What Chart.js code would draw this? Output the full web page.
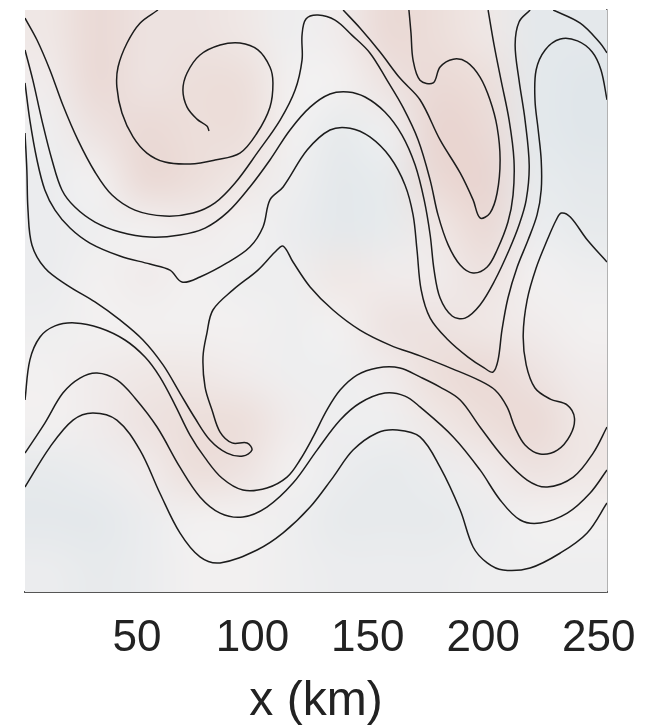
<!DOCTYPE html>
<html>
<head>
<meta charset="utf-8">
<script src="https://cdn.jsdelivr.net/npm/chart.js@4.4.0/dist/chart.umd.min.js"></script>
<style>
  html, body { margin: 0; padding: 0; background: #fff; }
  #wrap { width: 657px; height: 728px; }
</style>
</head>
<body>
<div id="wrap"><canvas id="field" width="657" height="728"></canvas></div>
<script>
// axis range and ticks (km)
const xRange = [1.5, 253.6];
const yRange = [1.5, 253.7];
const xTicks = [50, 100, 150, 200, 250];

// background tracer field on a coarse 12 x 12 grid, top row first
// positive = reddish, negative = bluish
const fieldRows = [
  [ 0.2,  0.5,  0.3,  0.3,  0.2, -0.1,  0.1,  0.5,  0.4,  0.2, -0.4, -0.4],
  [ 0.1,  0.5,  0.3,  0.4,  0.4,  0.0,  0.0,  0.3,  0.5,  0.4, -0.4, -0.5],
  [-0.1,  0.3,  0.5,  0.4,  0.4,  0.0, -0.3, -0.1,  0.6,  0.5, -0.4, -0.5],
  [-0.2,  0.0,  0.5,  0.4,  0.2, -0.1, -0.4, -0.3,  0.5,  0.6, -0.3, -0.4],
  [-0.2, -0.1,  0.0,  0.1,  0.0, -0.2, -0.4, -0.3,  0.2,  0.5, -0.2, -0.3],
  [-0.2,  0.0,  0.1,  0.0, -0.1, -0.1,  0.2,  0.1,  0.1,  0.3,  0.0, -0.1],
  [-0.1,  0.0,  0.0,  0.0,  0.0, -0.1,  0.0,  0.3,  0.3,  0.2,  0.1,  0.0],
  [ 0.0,  0.1,  0.2,  0.2,  0.1, -0.1, -0.1,  0.1,  0.4,  0.5,  0.3,  0.1],
  [ 0.0,  0.1,  0.3,  0.4,  0.4,  0.1, -0.1, -0.1,  0.2,  0.4,  0.5,  0.2],
  [-0.3, -0.2,  0.1,  0.4,  0.3,  0.0, -0.2, -0.3, -0.2,  0.1,  0.3,  0.2],
  [-0.4, -0.4, -0.2,  0.0,  0.0, -0.1, -0.3, -0.3, -0.3, -0.2,  0.0,  0.0],
  [-0.2, -0.3, -0.2,  0.0,  0.0, -0.1, -0.2, -0.2, -0.2, -0.1, -0.1, -0.1]
];

// contour lines, [x km, y km]
const swirl = [
  [59.1, 253.7], [51.3, 248.0], [45.7, 239.4], [41.8, 229.0], [41.3, 220.3], [43.5, 209.1],
  [48.3, 198.7], [54.3, 191.7], [62.1, 187.8], [73.0, 187.0], [83.8, 188.7], [94.6, 191.7],
  [102.0, 200.4], [107.6, 211.6], [108.9, 222.1], [107.6, 229.0], [102.4, 236.4], [94.6, 239.4],
  [86.0, 238.5], [77.3, 234.2], [71.7, 226.4], [69.9, 219.0], [71.7, 211.6], [76.0, 206.4],
  [80.3, 203.4], [81.2, 201.3]
];
// wraps the swirl, runs up to the tip near x = 125 km, then round the long tongue
const lineA = [
  [1.5, 250.2], [6.7, 240.7], [12.3, 227.7], [17.9, 212.5], [24.4, 197.4], [31.8, 183.5],
  [39.2, 173.5], [49.1, 167.0], [62.1, 164.4], [74.3, 165.7], [83.8, 170.1], [92.5, 178.7],
  [102.4, 192.2], [112.0, 206.0], [118.5, 219.0], [121.5, 232.0], [121.5, 242.8], [123.2, 249.8],
  [128.4, 251.5], [135.8, 249.3], [143.1, 242.8], [150.9, 235.1], [158.3, 223.3], [165.2, 211.6],
  [171.8, 197.4], [177.0, 180.0], [180.4, 164.9], [184.8, 151.9], [190.0, 143.2], [195.6, 139.7],
  [201.7, 142.3], [206.0, 149.7], [210.7, 161.8], [212.9, 173.5], [213.3, 188.7], [211.2, 206.0],
  [207.7, 223.3], [204.7, 238.5], [202.1, 253.7]
];
const innerU = [
  [139.3, 253.7], [146.6, 245.9], [155.3, 235.5], [163.9, 224.2], [172.6, 214.8], [181.3, 197.4],
  [190.0, 183.1], [195.6, 171.4], [198.6, 163.6], [202.9, 165.7], [206.0, 174.4], [207.3, 188.7],
  [206.0, 203.0], [202.9, 214.8], [198.6, 224.6], [192.9, 231.1], [187.0, 232.4], [181.3, 229.0],
  [178.3, 222.1], [172.6, 223.3], [169.6, 232.0], [168.7, 243.7], [167.8, 253.7]
];
const lineB = [
  [1.5, 236.4], [4.9, 223.3], [8.8, 206.0], [13.2, 188.7], [17.5, 175.7], [23.1, 168.3],
  [31.8, 161.8], [42.6, 157.5], [55.6, 155.3], [68.6, 156.2], [79.5, 159.2], [89.4, 166.2],
  [98.9, 177.0], [107.6, 188.7], [116.3, 201.7], [125.0, 211.6], [133.6, 217.3], [141.4, 218.2],
  [148.8, 216.0], [157.4, 209.5], [164.8, 199.5], [170.5, 186.5], [174.4, 171.4], [177.0, 156.2],
  [178.7, 141.0], [181.3, 128.9], [186.5, 121.1], [192.1, 120.2], [198.6, 125.9], [205.1, 136.7],
  [211.2, 149.7], [215.5, 160.5], [218.6, 171.4], [219.9, 186.5], [218.1, 206.0], [215.5, 223.3],
  [213.8, 238.5], [215.5, 248.5], [220.3, 253.7]
];
const lineC = [
  [1.5, 222.1], [3.6, 206.0], [6.7, 188.7], [10.1, 175.7], [14.5, 167.0], [21.0, 159.2],
  [29.6, 152.7], [42.6, 147.1], [55.6, 143.6], [64.3, 141.0], [69.5, 135.8], [77.3, 138.0],
  [89.0, 144.1], [98.9, 151.0], [104.6, 159.7], [107.6, 171.4], [113.3, 177.0], [123.7, 193.0],
  [133.6, 201.7], [142.3, 202.5], [150.9, 198.7], [159.6, 190.0], [166.1, 177.9], [169.6, 164.9],
  [171.3, 149.7], [173.1, 132.4], [177.0, 120.2], [184.8, 110.7], [193.4, 103.3], [200.4, 98.6],
  [204.2, 96.8], [206.4, 102.0], [208.1, 115.0], [210.7, 128.9], [214.7, 142.3], [219.4, 154.0],
  [223.3, 164.9], [225.1, 175.7], [225.1, 188.7], [223.8, 201.7], [222.4, 214.8], [222.9, 227.7],
  [226.8, 236.4], [233.4, 241.1], [240.8, 240.3], [247.2, 235.5], [251.0, 227.7], [253.6, 214.8]
];
// left edge, the hooked tongue, the diagonal, the knob and out to the right edge
const lineT = [
  [1.5, 200.4], [2.3, 184.4], [2.8, 167.0], [4.5, 151.9], [10.1, 141.9], [19.7, 134.5],
  [31.8, 127.2], [42.6, 119.4], [52.6, 110.7], [61.3, 99.9], [68.6, 87.7], [75.1, 76.9],
  [81.6, 67.4], [89.0, 61.7], [95.9, 60.4], [99.8, 63.0], [97.7, 66.1], [91.2, 66.1],
  [86.0, 70.8], [82.5, 80.4], [79.5, 90.3], [78.6, 103.3], [80.3, 113.7], [82.9, 123.7],
  [91.6, 132.4], [102.4, 141.0], [109.8, 148.8], [113.3, 151.4], [117.6, 144.5], [125.0, 133.7],
  [134.9, 123.7], [146.6, 115.0], [159.6, 108.5], [172.6, 103.8], [186.9, 98.1], [197.8, 93.4],
  [205.1, 89.0], [210.3, 81.7], [213.8, 72.6], [218.1, 65.2], [224.6, 61.3], [232.1, 63.0],
  [237.7, 69.5], [239.5, 76.9], [236.4, 82.5], [229.0, 85.1], [222.4, 89.9], [218.6, 99.9],
  [217.3, 112.9], [219.0, 128.0], [222.9, 141.9], [227.7, 154.0], [231.6, 162.7], [233.8, 165.7],
  [237.7, 164.0], [245.1, 154.0], [253.6, 144.5]
];
const lineI = [
  [1.5, 84.7], [3.6, 102.0], [8.0, 112.0], [14.5, 116.8], [23.1, 118.1], [34.0, 115.9],
  [44.8, 110.7], [53.5, 103.3], [59.9, 94.7], [66.5, 82.5], [72.97, 69.5], [79.5, 59.6],
  [86.8, 50.9], [95.9, 45.7], [106.3, 46.6], [115.0, 51.3], [120.6, 58.7], [126.3, 68.7],
  [132.3, 80.4], [138.0, 89.0], [145.3, 95.5], [154.0, 98.6], [163.9, 98.6], [172.6, 94.7],
  [181.3, 90.3], [190.0, 84.7], [198.6, 73.0], [208.6, 60.0], [219.0, 50.0], [227.7, 47.0],
  [239.0, 51.3], [247.6, 61.7], [253.6, 73.0]
];
const lineH = [
  [1.5, 61.7], [10.1, 74.7], [17.9, 87.7], [25.3, 94.2], [32.7, 96.4], [41.3, 93.4],
  [49.1, 85.6], [58.7, 73.0], [68.6, 55.6], [77.3, 42.7], [86.0, 35.7], [95.9, 34.0],
  [106.3, 38.3], [117.6, 48.7], [128.0, 63.0], [138.0, 76.0], [146.6, 83.4], [157.4, 87.7],
  [166.1, 86.4], [172.6, 81.7], [187.0, 68.7], [198.6, 54.4], [207.3, 41.4], [216.0, 32.7],
  [224.7, 31.4], [236.4, 35.7], [246.3, 44.4], [253.6, 54.4]
];
const lineG = [
  [1.5, 47.0], [12.3, 64.3], [22.3, 76.0], [30.9, 79.1], [41.3, 76.0], [51.3, 63.0],
  [59.9, 44.4], [68.6, 27.1], [77.3, 16.7], [86.0, 14.1], [102.0, 19.7], [113.3, 27.1],
  [125.0, 38.3], [135.0, 51.3], [143.6, 63.0], [154.0, 70.4], [162.7, 71.7], [172.6, 68.7],
  [181.3, 55.6], [190.0, 37.0], [195.6, 21.0], [201.7, 14.1], [208.6, 11.0], [220.3, 11.9],
  [233.4, 18.4], [245.0, 27.1], [253.6, 40.1]
];
const corner = [
  [230.3, 253.7], [242.0, 248.0], [250.6, 239.4], [253.6, 235.1]
];
const contours = [swirl, lineA, innerU, lineB, lineC, lineT, lineI, lineH, lineG, corner];

// colour ramp for the field
const neutral = [242, 240, 240];
const warm = [226, 194, 186];
const cool = [206, 219, 228];
function fieldColor(v) {
  const end = v >= 0 ? warm : cool;
  const t = Math.min(1, Math.abs(v));
  return neutral.map((c, k) => Math.round(c + (end[k] - c) * t));
}

// paints the coarse field under the contour lines, smoothed by the browser
const fieldPlugin = {
  id: 'tracerField',
  beforeDatasetsDraw(chart) {
    const { ctx, scales: { x, y } } = chart;
    const nRows = fieldRows.length;
    const nCols = fieldRows[0].length;
    const off = document.createElement('canvas');
    off.width = nCols;
    off.height = nRows;
    const octx = off.getContext('2d');
    const img = octx.createImageData(nCols, nRows);
    fieldRows.forEach((row, i) => row.forEach((v, j) => {
      const c = fieldColor(v);
      const k = (i * nCols + j) * 4;
      img.data[k] = c[0];
      img.data[k + 1] = c[1];
      img.data[k + 2] = c[2];
      img.data[k + 3] = 255;
    }));
    octx.putImageData(img, 0, 0);
    const left = x.getPixelForValue(xRange[0]);
    const right = x.getPixelForValue(xRange[1]);
    const top = y.getPixelForValue(yRange[1]);
    const bottom = y.getPixelForValue(yRange[0]);
    ctx.save();
    ctx.imageSmoothingEnabled = true;
    ctx.imageSmoothingQuality = 'high';
    ctx.drawImage(off, left, top, right - left, bottom - top);
    ctx.restore();
  }
};

const canvas = document.getElementById('field');
new Chart(canvas.getContext('2d'), {
  type: 'scatter',
  data: {
    datasets: contours.map(line => ({
      data: line.map(p => ({ x: p[0], y: p[1] })),
      showLine: true,
      borderColor: '#1c1c1c',
      borderWidth: 1.5,
      pointRadius: 0,
      tension: 0.35,
      fill: false
    }))
  },
  options: {
    responsive: false,
    animation: false,
    layout: { padding: { left: 25, top: 10, right: 50, bottom: 0 } },
    plugins: {
      legend: { display: false },
      tooltip: { enabled: false }
    },
    scales: {
      x: {
        type: 'linear',
        min: xRange[0],
        max: xRange[1],
        afterBuildTicks: scale => { scale.ticks = xTicks.map(v => ({ value: v })); },
        // fixed height for the axis band under the plot
        afterFit: scale => { scale.height = 136; },
        grid: { display: false, drawTicks: false },
        border: { display: true, color: '#555', width: 2 },
        ticks: {
          color: '#222',
          padding: 20,
          maxRotation: 0,
          autoSkip: false,
          font: { family: "'Liberation Sans', Arial, sans-serif", size: 44 }
        },
        title: {
          display: true,
          text: 'x (km)',
          color: '#222',
          padding: { top: 0, bottom: 2 },
          font: { family: "'Liberation Sans', Arial, sans-serif", size: 48, lineHeight: 1.0 }
        }
      },
      y: {
        type: 'linear',
        position: 'right',
        min: yRange[0],
        max: yRange[1],
        grid: { display: false, drawTicks: false },
        border: { display: true, color: '#666', width: 1.5 },
        ticks: { display: false }
      }
    }
  },
  plugins: [fieldPlugin]
});
</script>
</body>
</html>
